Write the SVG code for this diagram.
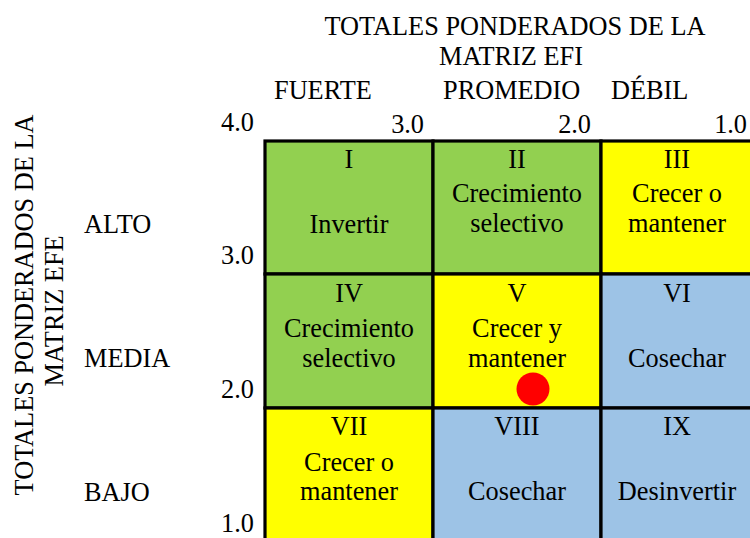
<svg xmlns="http://www.w3.org/2000/svg" width="750" height="538" viewBox="0 0 750 538">
<style>
text{font-family:"Liberation Serif","Times New Roman",serif;font-size:26.3px;fill:#000}
.c{text-anchor:middle}
.e{text-anchor:end}
.cell{stroke:#000;stroke-width:3.2}
.g{fill:#92D050}
.y{fill:#FFFF00}
.b{fill:#9DC3E6}
</style>
<rect width="750" height="538" fill="#fff"/>
<g id="title-top">
<text class="c" x="515" y="35">TOTALES PONDERADOS DE LA</text>
<text class="c" x="511" y="65">MATRIZ EFI</text>
<text x="274" y="99">FUERTE</text>
<text x="443" y="99">PROMEDIO</text>
<text x="611" y="99">DÉBIL</text>
</g>
<g id="title-left">
<text class="c" transform="translate(33,305) rotate(-90)">TOTALES PONDERADOS DE LA</text>
<text class="c" transform="translate(63,311) rotate(-90)">MATRIZ EFE</text>
<text x="84" y="233">ALTO</text>
<text x="84" y="367">MEDIA</text>
<text x="84" y="501">BAJO</text>
</g>
<g id="axis">
<text x="221" y="131">4.0</text>
<text class="e" x="424" y="133">3.0</text>
<text class="e" x="591" y="133">2.0</text>
<text class="e" x="747" y="133">1.0</text>
<text x="221" y="264">3.0</text>
<text x="221" y="398">2.0</text>
<text x="221" y="532">1.0</text>
</g>
<g id="cell-I"><rect class="cell g" x="265" y="141" width="168" height="133"/><text class="c" x="349" y="168">I</text><text class="c" x="349" y="233">Invertir</text></g>
<g id="cell-II"><rect class="cell g" x="433" y="141" width="168" height="133"/><text class="c" x="517" y="168">II</text><text class="c" x="517" y="202">Crecimiento</text><text class="c" x="517" y="232">selectivo</text></g>
<g id="cell-III"><rect class="cell y" x="601" y="141" width="152" height="133"/><text class="c" x="677" y="168">III</text><text class="c" x="677" y="202">Crecer o</text><text class="c" x="677" y="232">mantener</text></g>
<g id="cell-IV"><rect class="cell g" x="265" y="274" width="168" height="134"/><text class="c" x="349" y="302">IV</text><text class="c" x="349" y="337">Crecimiento</text><text class="c" x="349" y="367">selectivo</text></g>
<g id="cell-V"><rect class="cell y" x="433" y="274" width="168" height="134"/><text class="c" x="517" y="302">V</text><text class="c" x="517" y="337">Crecer y</text><text class="c" x="517" y="367">mantener</text></g>
<g id="cell-VI"><rect class="cell b" x="601" y="274" width="152" height="134"/><text class="c" x="677" y="302">VI</text><text class="c" x="677" y="367">Cosechar</text></g>
<g id="cell-VII"><rect class="cell y" x="265" y="408" width="168" height="134"/><text class="c" x="349" y="435">VII</text><text class="c" x="349" y="471">Crecer o</text><text class="c" x="349" y="500">mantener</text></g>
<g id="cell-VIII"><rect class="cell b" x="433" y="408" width="168" height="134"/><text class="c" x="517" y="435">VIII</text><text class="c" x="517" y="500">Cosechar</text></g>
<g id="cell-IX"><rect class="cell b" x="601" y="408" width="152" height="134"/><text class="c" x="677" y="435">IX</text><text class="c" x="677" y="500">Desinvertir</text></g>
<g id="marker"><circle cx="533" cy="389" r="16.5" fill="#FF0000"/></g>
<g id="connectors"/>
</svg>
